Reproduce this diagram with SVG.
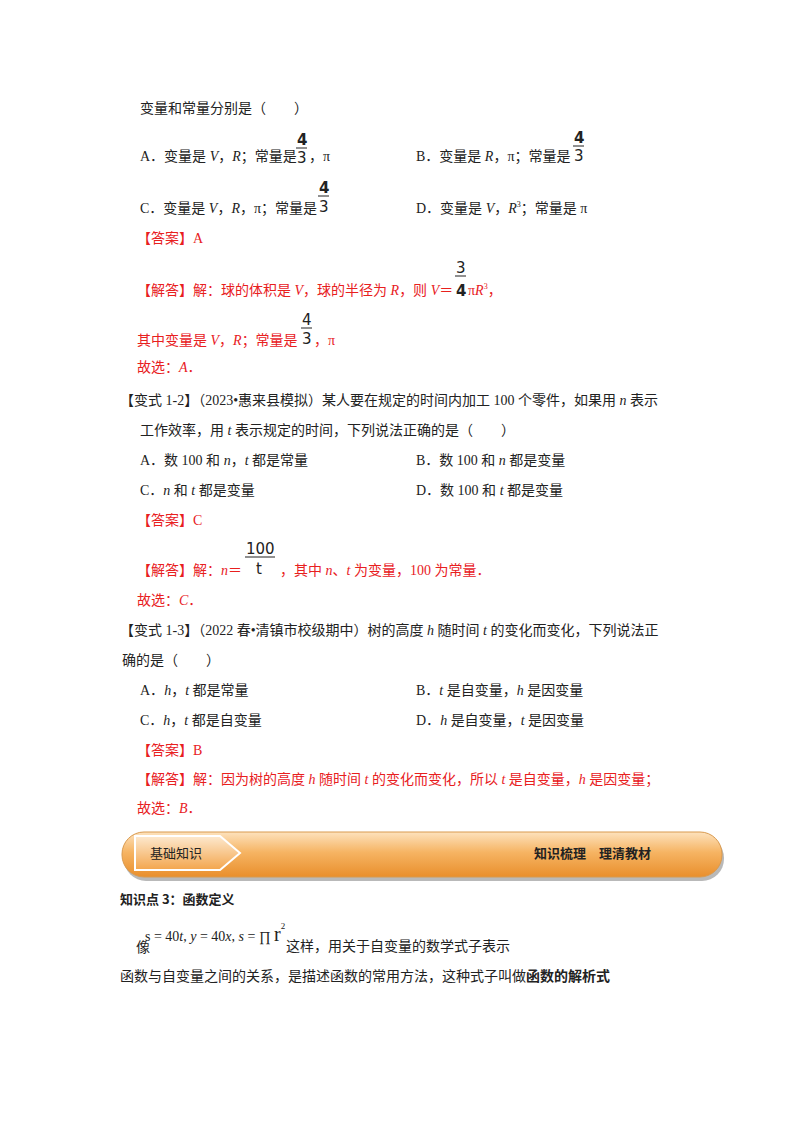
<svg xmlns="http://www.w3.org/2000/svg" width="800" height="1132" viewBox="0 0 800 1132">
<defs>
<style>
text{font-family:"Liberation Serif","Noto Sans CJK SC",serif;font-size:14px;fill:#222}
.r{fill:#e8201e}
.i{font-style:italic}
.f{font-family:"DejaVu Sans",sans-serif;font-size:15px}
.b{font-weight:bold}
.sup{font-size:8px}
</style>
<linearGradient id="og" x1="0" y1="0" x2="0" y2="1">
<stop offset="0" stop-color="#fde2bd"/><stop offset="0.45" stop-color="#f6b463"/><stop offset="1" stop-color="#e98f2c"/>
</linearGradient>
<linearGradient id="tg" x1="0" y1="0" x2="0" y2="1">
<stop offset="0" stop-color="#fde9cf"/><stop offset="1" stop-color="#f3a54c"/>
</linearGradient>
</defs>
<rect width="800" height="1132" fill="#fff"/>
<text x="140" y="113">变量和常量分别是（　　）</text>
<text x="140" y="161">A．变量是 <tspan class="i">V</tspan>，<tspan class="i">R</tspan>；常量是</text>
<text x="297" y="145" class="f b">4</text><line x1="296" y1="148" x2="307" y2="148" stroke="#222"/><text x="297" y="163" class="f">3</text>
<text x="309" y="161">，π</text>
<text x="416" y="161">B．变量是 <tspan class="i">R</tspan>，π；常量是</text>
<text x="574" y="143" class="f b">4</text><line x1="573" y1="146" x2="584" y2="146" stroke="#222"/><text x="574" y="161" class="f">3</text>
<text x="140" y="213">C．变量是 <tspan class="i">V</tspan>，<tspan class="i">R</tspan>，π；常量是</text>
<text x="319" y="193" class="f b">4</text><line x1="318" y1="196" x2="329" y2="196" stroke="#222"/><text x="319" y="212" class="f">3</text>
<text x="416" y="213">D．变量是 <tspan class="i">V</tspan>，<tspan class="i">R</tspan><tspan class="sup" dy="-6">3</tspan><tspan dy="6">；常量是 π</tspan></text>
<text x="137" y="243" class="r">【答案】A</text>
<text x="137" y="295" class="r">【解答】解：球的体积是 <tspan class="i">V</tspan>，球的半径为 <tspan class="i">R</tspan>，则 <tspan class="i">V</tspan>＝</text>
<text x="456" y="273" class="f">3</text><line x1="455" y1="276" x2="466" y2="276" stroke="#222"/><text x="456" y="296" class="f b">4</text>
<text x="468" y="295" class="r">π<tspan class="i">R</tspan><tspan class="sup" dy="-6">3</tspan><tspan dy="6">，</tspan></text>
<text x="137" y="345" class="r">其中变量是 <tspan class="i">V</tspan>，<tspan class="i">R</tspan>；常量是</text>
<text x="302" y="325" class="f">4</text><line x1="301" y1="328" x2="312" y2="328" stroke="#222"/><text x="302" y="344" class="f">3</text>
<text x="314" y="345" class="r">，π</text>
<text x="137" y="372" class="r">故选：<tspan class="i">A</tspan>．</text>
<text x="120" y="405">【变式 1-2】（2023•惠来县模拟）某人要在规定的时间内加工 100 个零件，如果用 <tspan class="i">n</tspan> 表示</text>
<text x="140" y="435">工作效率，用 <tspan class="i">t</tspan> 表示规定的时间，下列说法正确的是（　　）</text>
<text x="140" y="465">A．数 100 和 <tspan class="i">n</tspan>，<tspan class="i">t</tspan> 都是常量</text>
<text x="416" y="465">B．数 100 和 <tspan class="i">n</tspan> 都是变量</text>
<text x="140" y="495">C．<tspan class="i">n</tspan> 和 <tspan class="i">t</tspan> 都是变量</text>
<text x="416" y="495">D．数 100 和 <tspan class="i">t</tspan> 都是变量</text>
<text x="137" y="525" class="r">【答案】C</text>
<text x="137" y="575" class="r">【解答】解：<tspan class="i">n</tspan>＝</text>
<text x="246" y="554" class="f">100</text><line x1="245" y1="557" x2="275" y2="557" stroke="#222"/><text x="256" y="574" class="f">t</text>
<text x="280" y="575" class="r">，其中 <tspan class="i">n</tspan>、<tspan class="i">t</tspan> 为变量，100 为常量．</text>
<text x="137" y="605" class="r">故选：<tspan class="i">C</tspan>．</text>
<text x="120" y="635">【变式 1-3】（2022 春•清镇市校级期中）树的高度 <tspan class="i">h</tspan> 随时间 <tspan class="i">t</tspan> 的变化而变化，下列说法正</text>
<text x="122" y="665">确的是（　　）</text>
<text x="140" y="695">A．<tspan class="i">h</tspan>，<tspan class="i">t</tspan> 都是常量</text>
<text x="416" y="695">B．<tspan class="i">t</tspan> 是自变量，<tspan class="i">h</tspan> 是因变量</text>
<text x="140" y="725">C．<tspan class="i">h</tspan>，<tspan class="i">t</tspan> 都是自变量</text>
<text x="416" y="725">D．<tspan class="i">h</tspan> 是自变量，<tspan class="i">t</tspan> 是因变量</text>
<text x="137" y="755" class="r">【答案】B</text>
<text x="137" y="784" class="r">【解答】解：因为树的高度 <tspan class="i">h</tspan> 随时间 <tspan class="i">t</tspan> 的变化而变化，所以 <tspan class="i">t</tspan> 是自变量，<tspan class="i">h</tspan> 是因变量；</text>
<text x="137" y="813" class="r">故选：<tspan class="i">B</tspan>．</text>
<g id="banner">
<rect x="124" y="836" width="600" height="45" rx="22" fill="#b9b9b9"/>
<rect x="122" y="832" width="600" height="45" rx="22" fill="url(#og)" stroke="#d99a4f"/>
<path d="M135 836 H220 L240 853 L220 870 H135 Z" fill="url(#tg)" stroke="#fff" stroke-width="2"/>
<text x="150" y="858" style="font-family:'Noto Sans CJK SC',sans-serif;font-size:13px">基础知识</text>
<text x="534" y="858" class="b" style="font-family:'Noto Sans CJK SC',sans-serif;font-size:13px">知识梳理　理清教材</text>
</g>
<text x="120" y="904" class="b" style="font-family:'Noto Sans CJK SC',sans-serif;font-size:13px">知识点 3：函数定义</text>
<text x="136" y="952">像</text>
<text x="145" y="941" style="font-size:14px">s = 40<tspan class="i">t</tspan>, <tspan class="i">y</tspan> = 40<tspan class="i">x</tspan>, <tspan class="i">s</tspan> = ∏ <tspan style="font-size:20px">r</tspan><tspan style="font-size:9px" dy="-12">2</tspan></text>
<text x="286" y="951">这样，用关于自变量的数学式子表示</text>
<text x="120" y="981">函数与自变量之间的关系，是描述函数的常用方法，这种式子叫做<tspan class="b">函数的解析式</tspan></text>
</svg>
